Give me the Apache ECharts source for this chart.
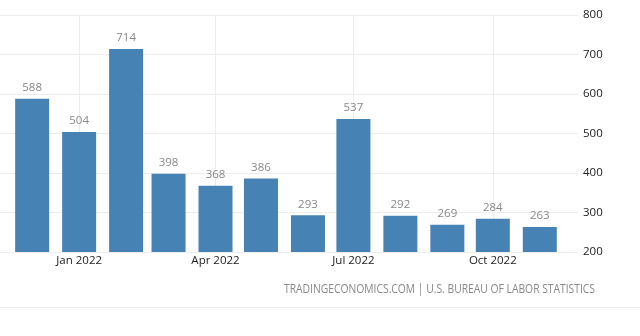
<!DOCTYPE html>
<html>
<head>
<meta charset="utf-8">
<script src="https://cdn.jsdelivr.net/npm/echarts@6/dist/echarts.min.js"></script>
<style>
html,body{margin:0;padding:0;background:#fff;}
#chart{width:640px;height:336px;}
</style>
</head>
<body>
<div id="chart"></div>
<script>
const months = ['2021-12-01','2022-01-01','2022-02-01','2022-03-01','2022-04-01','2022-05-01','2022-06-01','2022-07-01','2022-08-01','2022-09-01','2022-10-01','2022-11-01'];
const values = [588, 504, 714, 398, 368, 386, 293, 537, 292, 269, 284, 263];
const tickDates = ['2022-01-01','2022-04-01','2022-07-01','2022-10-01'];
const tickLabels = ['Jan 2022','Apr 2022','Jul 2022','Oct 2022'];
const yTicks = [200, 300, 400, 500, 600, 700, 800];
const sourceText = 'TRADINGECONOMICS.COM | U.S. BUREAU OF LABOR STATISTICS';

function ts(s){ const p = s.split('-').map(Number); return new Date(p[0], p[1]-1, p[2]).getTime(); }
const tickTs = tickDates.map(ts);

const chart = echarts.init(document.getElementById('chart'), null, {renderer:'canvas'});
const font = '"Open Sans", "Liberation Sans", Arial, sans-serif';
chart.setOption({
  animation: false,
  textStyle: {fontFamily: font},
  grid: {left: 0, right: 62, top: 15, bottom: 84, containLabel: false},
  xAxis: {
    type: 'time',
    min: ts('2021-11-21'),
    max: ts('2022-11-15'),
    axisLine: {show: false},
    axisTick: {show: false},
    splitLine: {show: false},
    axisLabel: {show: false}
  },
  yAxis: {
    type: 'value',
    position: 'right',
    min: yTicks[0],
    max: yTicks[yTicks.length-1],
    interval: 100,
    axisLine: {show: false},
    axisTick: {show: false},
    splitLine: {lineStyle: {color: '#ececec', width: 1}},
    axisLabel: {color: '#222', fontSize: 11.5, margin: 5, fontFamily: font}
  },
  series: [{
    type: 'line',
    data: [],
    z: 1,
    markLine: {
      silent: true,
      symbol: 'none',
      z: 1,
      lineStyle: {color: '#ececec', type: 'solid', width: 1},
      data: tickTs.map((t, i) => ({
        xAxis: t,
        label: {show: true, position: 'start', distance: 3, formatter: tickLabels[i], color: '#222', fontSize: 11.5, fontFamily: font}
      }))
    }
  }, {
    type: 'bar',
    barWidth: 34,
    data: months.map((m, i) => [ts(m), values[i]]),
    itemStyle: {color: '#4682b4'},
    label: {show: true, position: 'top', distance: 5, color: '#888', fontSize: 11.5, fontFamily: font},
    z: 3
  }],
  graphic: [
    {type: 'text', x: 595, y: 290, scaleX: 0.86,
     style: {text: sourceText, fill: '#888', fontSize: 12, fontFamily: font, textAlign: 'right', textVerticalAlign: 'middle'}},
    {type: 'line', shape: {x1: 0, y1: 307.5, x2: 640, y2: 307.5}, style: {stroke: '#eeeeee', lineWidth: 1}}
  ]
});
</script>
</body>
</html>
